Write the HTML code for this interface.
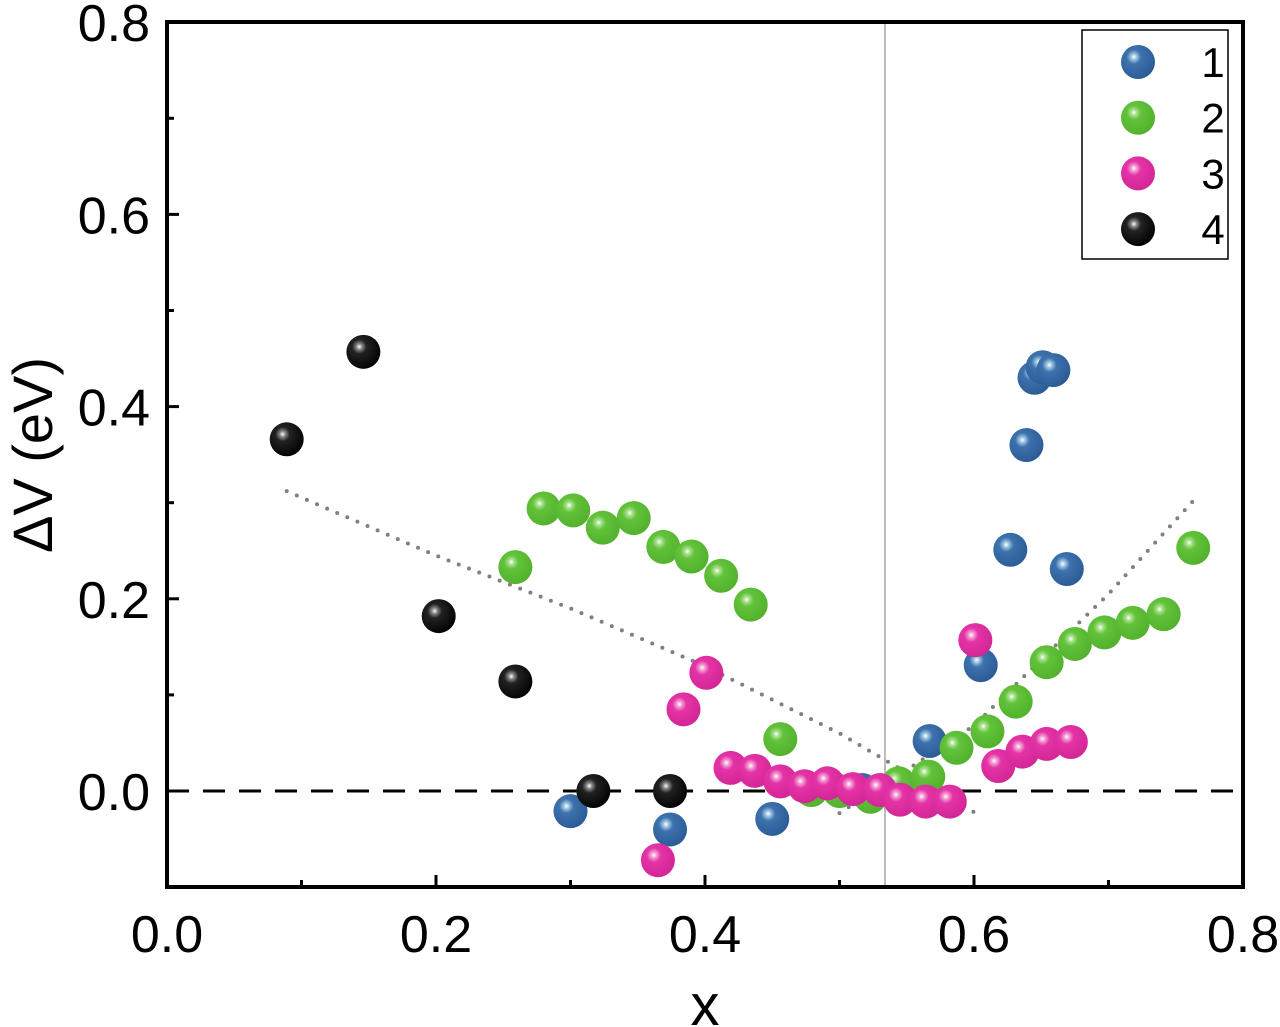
<!DOCTYPE html>
<html><head><meta charset="utf-8"><style>
body{margin:0;background:#fff;}
svg{display:block;font-family:"Liberation Sans",Arial,sans-serif;}
</style></head><body>
<svg id="chart" width="1280" height="1027" viewBox="0 0 1280 1027" xmlns="http://www.w3.org/2000/svg">
<defs>
<radialGradient id="g1" cx="0.38" cy="0.35" r="0.7"><stop offset="0" stop-color="#ffffff"/><stop offset="0.12" stop-color="#9cc4e0"/><stop offset="0.3" stop-color="#3d72ad"/><stop offset="1" stop-color="#2a5a94"/></radialGradient>
<radialGradient id="g2" cx="0.38" cy="0.35" r="0.7"><stop offset="0" stop-color="#ffffff"/><stop offset="0.12" stop-color="#a8e08c"/><stop offset="0.3" stop-color="#62c23a"/><stop offset="1" stop-color="#52b02c"/></radialGradient>
<radialGradient id="g3" cx="0.38" cy="0.35" r="0.7"><stop offset="0" stop-color="#ffffff"/><stop offset="0.12" stop-color="#f39bd2"/><stop offset="0.3" stop-color="#e433a6"/><stop offset="1" stop-color="#d12595"/></radialGradient>
<radialGradient id="g4" cx="0.38" cy="0.35" r="0.7"><stop offset="0" stop-color="#ffffff"/><stop offset="0.12" stop-color="#888"/><stop offset="0.3" stop-color="#222"/><stop offset="1" stop-color="#000"/></radialGradient>
</defs>
<g id="grid"></g>
<g id="marks"></g>
<g id="axes"></g>
</svg>
<script>
const s1x=[0.300,0.374,0.450,0.517,0.567,0.605,0.627,0.639,0.645,0.651,0.659,0.669];
const s1y=[-0.021,-0.040,-0.029,0.001,0.052,0.131,0.251,0.360,0.430,0.441,0.438,0.231];
const s2x=[0.259,0.280,0.302,0.324,0.347,0.369,0.390,0.412,0.434,0.456,0.479,0.500,0.523,0.544,0.566,0.587,0.610,0.631,0.654,0.675,0.697,0.718,0.741,0.763];
const s2y=[0.233,0.294,0.292,0.274,0.284,0.254,0.244,0.224,0.194,0.054,0.001,0.0,-0.006,0.008,0.015,0.045,0.062,0.093,0.134,0.153,0.165,0.175,0.184,0.253];
const s3x=[0.365,0.384,0.401,0.419,0.437,0.456,0.474,0.491,0.510,0.530,0.545,0.564,0.582,0.601,0.618,0.636,0.654,0.672];
const s3y=[-0.072,0.085,0.123,0.024,0.021,0.010,0.005,0.008,0.002,0.001,-0.009,-0.011,-0.011,0.157,0.026,0.041,0.049,0.051];
const s4x=[0.089,0.146,0.202,0.259,0.317,0.374];
const s4y=[0.366,0.457,0.182,0.114,0.0,0.0];
const fitLx=[0.089,0.2,0.3,0.4,0.5,0.6];
const fitLy=[0.312,0.245,0.19,0.13,0.06,-0.022];
const fitRx=[0.5,0.55,0.6,0.65,0.7,0.763];
const fitRy=[-0.023,0.022,0.068,0.137,0.205,0.302];
const xTicks=[0.0,0.2,0.4,0.6,0.8];
const yTicks=[0.0,0.2,0.4,0.6,0.8];
const L=167,R=1243,T=22,B=887;
const X=v=>L+(v-0)/0.8*(R-L);
const Y=v=>791-(v)*961;
const NS="http://www.w3.org/2000/svg";
const marks=document.getElementById('marks'),axes=document.getElementById('axes'),grid=document.getElementById('grid');
function mk(tag,attrs,parent){const e=document.createElementNS(NS,tag);for(const k in attrs)e.setAttribute(k,attrs[k]);parent.appendChild(e);return e;}
let vl=mk('line',{x1:885,x2:885,y1:T,y2:B,stroke:'#bbb','stroke-width':2},grid);


let zl=mk('line',{x1:L,x2:R,y1:Y(0),y2:Y(0),stroke:'#000','stroke-width':3,'stroke-dasharray':'22 14'},grid);


function fit(xs,ys,name){
  const pts=xs.map((v,i)=>X(v)+','+Y(ys[i])).join(' ');
  const p=mk('polyline',{points:pts,fill:'none',stroke:'#808080','stroke-width':4,'stroke-dasharray':'0 11','stroke-linecap':'round'},grid);
  
  
}
fit(fitLx,fitLy,'fit-line-left');
fit(fitRx,fitRy,'fit-line-right');
function series(xs,ys,g,name){
  xs.forEach((v,i)=>{
    const c=mk('circle',{cx:X(v),cy:Y(ys[i]),r:17,fill:'url(#'+g+')'},marks);
    
    
  });
}
series(s1x,s1y,'g1','series-1');
series(s2x,s2y,'g2','series-2');
series(s3x,s3y,'g3','series-3');
series(s4x,s4y,'g4','series-4');
let fr=mk('rect',{x:L,y:T,width:R-L,height:B-T,fill:'none',stroke:'#000','stroke-width':4},axes);


for(let v=0;v<=0.8001;v+=0.1){
  const major=Math.abs(v*5-Math.round(v*5))<1e-6;
  const t=mk('line',{x1:X(v),x2:X(v),y1:B,y2:B-(major?12:7),stroke:'#000','stroke-width':3},axes);
  
  
}
for(let v=-0.1;v<=0.8001;v+=0.1){
  const major=Math.abs(v*5-Math.round(v*5))<1e-6;
  const t=mk('line',{x1:L,x2:L+(major?12:7),y1:Y(v),y2:Y(v),stroke:'#000','stroke-width':3},axes);
  
  
}
xTicks.forEach(v=>{
  const t=mk('text',{x:X(v),y:952,'font-size':52,'text-anchor':'middle'},axes);t.textContent=v.toFixed(1);
  
  
});
yTicks.forEach(v=>{
  const t=mk('text',{x:150,y:Y(v)+19,'font-size':52,'text-anchor':'end'},axes);t.textContent=v.toFixed(1);
  
  
});
let xt=mk('text',{x:705,y:1025,'font-size':58,'text-anchor':'middle'},axes);xt.textContent='x';


let yt=mk('text',{x:0,y:0,'font-size':56,'text-anchor':'middle',transform:'translate(52,455) rotate(-90)'},axes);yt.textContent='ΔV (eV)';


const lg=mk('g',{},axes);


mk('rect',{x:1082,y:30,width:146,height:229,fill:'#fff',stroke:'#000','stroke-width':1.5},lg);
const legLabels=['1','2','3','4'];
legLabels.forEach((lab,i)=>{
  const cy=62+i*55.7;
  const c=mk('circle',{cx:1138,cy:cy,r:17,fill:'url(#g'+(i+1)+')'},lg);
  
  
  const t=mk('text',{x:1213,y:cy+15,'font-size':42,'text-anchor':'middle'},lg);t.textContent=lab;
  
  
});
</script>
</body></html>
